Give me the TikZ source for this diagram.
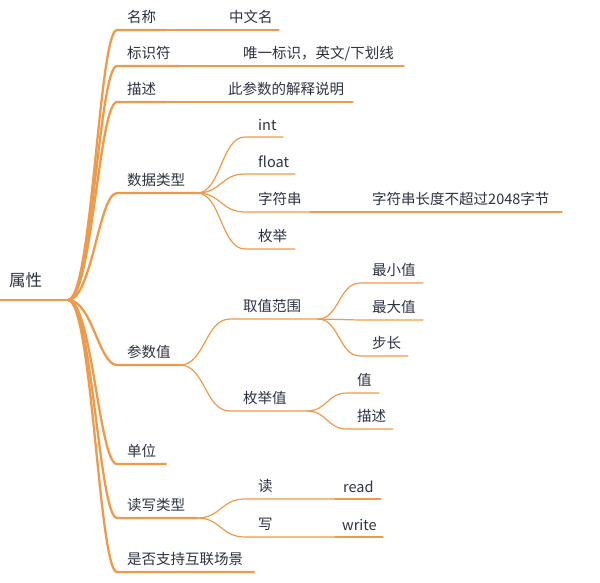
\documentclass[tikz,border=0pt]{standalone}
\usepackage{fontspec}
\setmainfont{Noto Sans CJK SC}
\usetikzlibrary{calc}
\definecolor{linec}{RGB}{239,154,72}
\definecolor{textc}{RGB}{44,50,64}
\tikzset{
  lbl/.style={font=\fontsize{14.5}{17}\selectfont, text=textc, inner sep=0pt, anchor=base west},
  rootlbl/.style={font=\fontsize{16.5}{19}\selectfont, text=textc, inner sep=0pt, anchor=base west},
  lone/.style={draw=linec, line width=2.3pt, line cap=round},
  ltwo/.style={draw=linec, line width=1.2pt, line cap=round},
}
\begin{document}
\begin{tikzpicture}[x=1pt,y=-1pt]
\useasboundingbox (0,0) rectangle (600,582);
% root
\node[rootlbl] (root) at (9,286) {属性};
\coordinate (rootS) at (0,300);
\coordinate (rootJ) at (68,300);
\draw[lone] (rootS) -- (rootJ);

% ---------- level 1 ----------
% 名称
\node[lbl] (n1) at (127,22.5) {名称};
\coordinate (n1S) at (117,30); \coordinate (n1E) at (166,30);
\draw[lone] (rootJ) .. controls +(24,0) and +(-18,0) .. (n1S) -- (n1E);
\node[lbl] (c1) at (229,22.5) {中文名};
\coordinate (c1E) at (279,30);
\draw[ltwo] (n1E) -- (c1E);

% 标识符
\node[lbl] (n2) at (127,58.5) {标识符};
\coordinate (n2S) at (117,66); \coordinate (n2E) at (180,66);
\draw[lone] (rootJ) .. controls +(24,0) and +(-18,0) .. (n2S) -- (n2E);
\node[lbl] (c2) at (243,58.5) {唯一标识，英文/下划线};
\coordinate (c2E) at (404,66);
\draw[ltwo] (n2E) -- (c2E);

% 描述
\node[lbl] (n3) at (127,94.5) {描述};
\coordinate (n3S) at (117,102); \coordinate (n3E) at (166,102);
\draw[lone] (rootJ) .. controls +(24,0) and +(-18,0) .. (n3S) -- (n3E);
\node[lbl] (c3) at (228,94.5) {此参数的解释说明};
\coordinate (c3E) at (353,102);
\draw[ltwo] (n3E) -- (c3E);

% 数据类型
\node[lbl] (n4) at (127,185.5) {数据类型};
\coordinate (n4S) at (117,193); \coordinate (n4E) at (197,193);
\draw[lone] (rootJ) .. controls +(24,0) and +(-18,0) .. (n4S) -- (n4E);
% children
\node[lbl] (d1) at (258,130) {int};
\coordinate (d1S) at (245,137); \coordinate (d1E) at (283,137);
\draw[ltwo] (n4E) .. controls +(24,0) and +(-24,0) .. (d1S) -- (d1E);
\node[lbl] (d2) at (258,167) {float};
\coordinate (d2S) at (245,174); \coordinate (d2E) at (295,174);
\draw[ltwo] (n4E) .. controls +(24,0) and +(-24,0) .. (d2S) -- (d2E);
\node[lbl] (d3) at (258,204.5) {字符串};
\coordinate (d3S) at (245,212); \coordinate (d3E) at (310,212);
\draw[ltwo] (n4E) .. controls +(24,0) and +(-24,0) .. (d3S) -- (d3E);
\node[lbl] (d3c) at (372,204.5) {字符串长度不超过2048字节};
\coordinate (d3cE) at (562,212);
\draw[ltwo] (d3E) -- (d3cE);
\node[lbl] (d4) at (258,241.5) {枚举};
\coordinate (d4S) at (245,249); \coordinate (d4E) at (295,249);
\draw[ltwo] (n4E) .. controls +(24,0) and +(-24,0) .. (d4S) -- (d4E);

% 参数值
\node[lbl] (n5) at (127,357.5) {参数值};
\coordinate (n5S) at (117,365); \coordinate (n5E) at (180,365);
\draw[lone] (rootJ) .. controls +(24,0) and +(-18,0) .. (n5S) -- (n5E);
% 取值范围
\node[lbl] (p1) at (243,311.5) {取值范围};
\coordinate (p1S) at (230,319); \coordinate (p1E) at (318,319);
\draw[ltwo] (n5E) .. controls +(25,0) and +(-25,0) .. (p1S) -- (p1E);
\node[lbl] (q1) at (372,275.5) {最小值};
\coordinate (q1S) at (360,283); \coordinate (q1E) at (423,283);
\draw[ltwo] (p1E) .. controls +(21,0) and +(-21,0) .. (q1S) -- (q1E);
\node[lbl] (q2) at (372,312.5) {最大值};
\coordinate (q2S) at (360,320); \coordinate (q2E) at (423,320);
\draw[ltwo] (p1E) .. controls +(21,0) and +(-21,0) .. (q2S) -- (q2E);
\node[lbl] (q3) at (372,348.5) {步长};
\coordinate (q3S) at (360,356); \coordinate (q3E) at (408,356);
\draw[ltwo] (p1E) .. controls +(21,0) and +(-21,0) .. (q3S) -- (q3E);
% 枚举值
\node[lbl] (p2) at (243,403.5) {枚举值};
\coordinate (p2S) at (230,411); \coordinate (p2E) at (307,411);
\draw[ltwo] (n5E) .. controls +(25,0) and +(-25,0) .. (p2S) -- (p2E);
\node[lbl] (r1) at (357,385.5) {值};
\coordinate (r1S) at (347,393); \coordinate (r1E) at (379,393);
\draw[ltwo] (p2E) .. controls +(20,0) and +(-20,0) .. (r1S) -- (r1E);
\node[lbl] (r2) at (357,421.5) {描述};
\coordinate (r2S) at (347,429); \coordinate (r2E) at (393,429);
\draw[ltwo] (p2E) .. controls +(20,0) and +(-20,0) .. (r2S) -- (r2E);

% 单位
\node[lbl] (n6) at (127,456.5) {单位};
\coordinate (n6S) at (117,464); \coordinate (n6E) at (166,464);
\draw[lone] (rootJ) .. controls +(24,0) and +(-18,0) .. (n6S) -- (n6E);

% 读写类型
\node[lbl] (n7) at (127,510.5) {读写类型};
\coordinate (n7S) at (117,518); \coordinate (n7E) at (197,518);
\draw[lone] (rootJ) .. controls +(24,0) and +(-18,0) .. (n7S) -- (n7E);
\node[lbl] (w1) at (258,491.5) {读};
\coordinate (w1S) at (245,499); \coordinate (w1E) at (335,499);
\draw[ltwo] (n7E) .. controls +(24,0) and +(-24,0) .. (w1S) -- (w1E);
\node[lbl] (w1c) at (343,492) {read};
\coordinate (w1cE) at (381,499);
\draw[ltwo] (w1E) -- (w1cE);
\node[lbl] (w2) at (258,529.5) {写};
\coordinate (w2S) at (245,537); \coordinate (w2E) at (335,537);
\draw[ltwo] (n7E) .. controls +(24,0) and +(-24,0) .. (w2S) -- (w2E);
\node[lbl] (w2c) at (342,530) {write};
\coordinate (w2cE) at (383,537);
\draw[ltwo] (w2E) -- (w2cE);

% 是否支持互联场景
\node[lbl] (n8) at (127,564.5) {是否支持互联场景};
\coordinate (n8S) at (117,572); \coordinate (n8E) at (254,572);
\draw[lone] (rootJ) .. controls +(24,0) and +(-18,0) .. (n8S) -- (n8E);
\end{tikzpicture}
\end{document}
